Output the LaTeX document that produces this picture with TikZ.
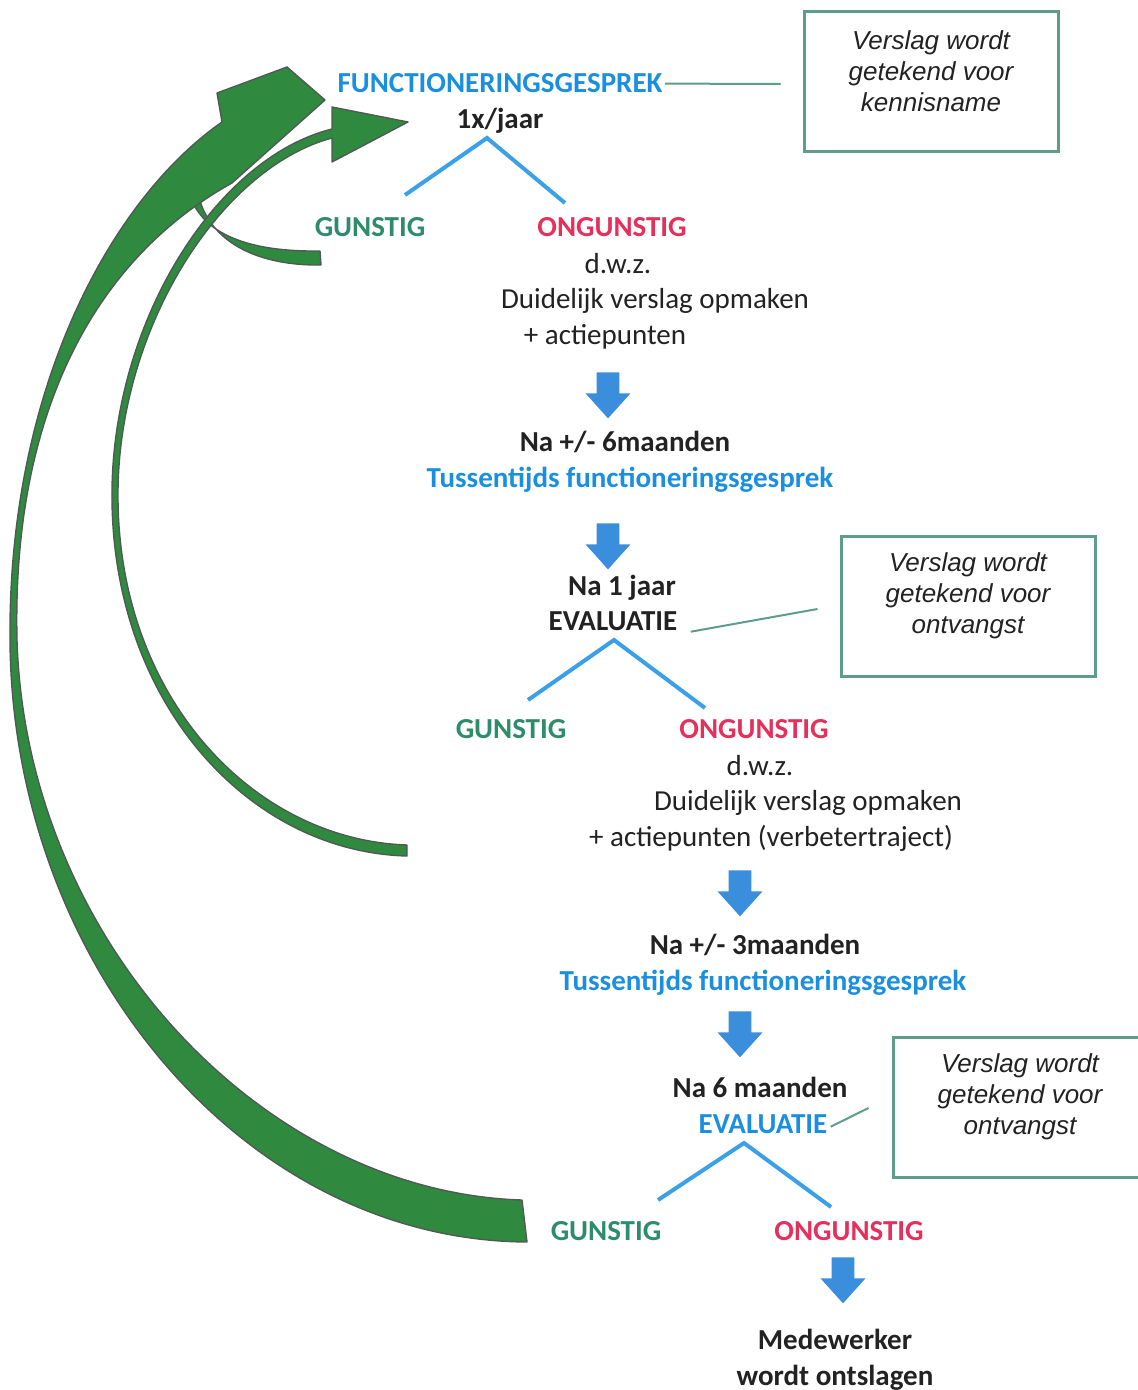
\documentclass[tikz,border=0pt]{standalone}
\usepackage{fontspec}
\setmainfont{Carlito}
\newfontfamily\notefont{Liberation Sans}
\usetikzlibrary{calc,shapes.arrows}
\definecolor{StepBlue}{HTML}{1A8FE0}
\definecolor{GoodGreen}{HTML}{2E8C6A}
\definecolor{BadRed}{HTML}{E5305B}
\definecolor{TextBlack}{HTML}{222222}
\definecolor{ForkBlue}{HTML}{3AA0E8}
\definecolor{DownBlue}{HTML}{3A8EDB}
\definecolor{NoteFrame}{HTML}{5E9C8C}
\definecolor{LoopGreen}{HTML}{2F8A3F}
\definecolor{LoopEdge}{HTML}{4F5A55}

\begin{document}
\begin{tikzpicture}[x=0.5pt,y=-0.5pt,
  plain/.style={anchor=base,inner sep=0pt,text=TextBlack,
    font=\fontsize{14.5}{18}\selectfont},
  head/.style={plain,font=\fontsize{14.5}{18}\selectfont\bfseries},
  blue/.style={head,text=StepBlue},
  good/.style={head,text=GoodGreen},
  bad/.style={head,text=BadRed},
  notebox/.style={draw=NoteFrame,line width=1.5pt,minimum width=127pt,minimum height=70pt},
  notetext/.style={align=center,inner sep=0pt,text=TextBlack,
    font=\notefont\fontsize{13}{15.5}\selectfont\itshape},
  forkline/.style={ForkBlue,line width=2pt},
  noteline/.style={NoteFrame,line width=1pt},
  blockdown/.style={single arrow,shape border rotate=270,fill=DownBlue,draw=none,
    inner sep=5.5pt,minimum width=22pt,minimum height=23pt,
    single arrow head extend=5.5pt,single arrow tip angle=84},
  loop/.style={fill=LoopGreen,draw=LoopEdge,line width=0.7pt,line join=round}]
  \clip (0,0) rectangle (1138,1390);

  % --- green return arrows ---
  \filldraw[loop] (186,170) .. controls (186,235) and (250,252) .. (320,251)
    -- (321,265) .. controls (245,266) and (194,232) .. (196,170) -- cycle;
  \filldraw[loop] (522,1200) .. controls (262,1192) and (26,940) .. (17,640)
    .. controls (12,420) and (90,262) .. (232,183)
    -- (325,100) -- (287,67) -- (217,93) -- (222,122)
    .. controls (110,200) and (8,390) .. (10,640)
    .. controls (12,960) and (240,1240) .. (527,1242) -- cycle;
  \filldraw[loop] (407,845) .. controls (255,840) and (120,700) .. (118,500)
    .. controls (116,330) and (220,168) .. (332,138)
    -- (332,162) -- (408,122) -- (332,107) -- (332,129)
    .. controls (215,158) and (110,325) .. (112,500)
    .. controls (114,705) and (250,852) .. (407,856) -- cycle;

  % --- first talk ---
  \node[blue] (func) at (500,93) {FUNCTIONERINGSGESPREK};
  \node[head] (jaar) at (500,129) {1x/jaar};
  \node[good] (gun1) at (370,237) {GUNSTIG};
  \node[bad]  (ong1) at (612,237) {ONGUNSTIG};
  \node[plain] (dwz1) at (618,274) {d.w.z.};
  \node[plain] (dui1) at (655,308) {Duidelijk verslag opmaken};
  \node[plain] (act1) at (605,344) {+ actiepunten};
  \coordinate (f1) at (487,138);
  \coordinate (f1l) at (405,195);
  \coordinate (f1r) at (565,203);
  \draw[forkline] (f1l) -- (f1) -- (f1r);
  \node[blockdown] (dn1) at (608,389) {};

  % --- interim talk and evaluation ---
  \node[head] (na6) at (625,451) {Na +/- 6maanden};
  \node[blue] (tus1) at (630,487) {Tussentijds functioneringsgesprek};
  \node[blockdown] (dn2) at (608,540) {};
  \node[head] (na1) at (622,595) {Na 1 jaar};
  \node[head] (eval1) at (613,630) {EVALUATIE};
  \node[good] (gun2) at (511,738) {GUNSTIG};
  \node[bad]  (ong2) at (754,738) {ONGUNSTIG};
  \node[plain] (dwz2) at (760,775) {d.w.z.};
  \node[plain] (dui2) at (808,810) {Duidelijk verslag opmaken};
  \node[plain] (act2) at (771,846) {+ actiepunten (verbetertraject)};
  \coordinate (f2) at (614,640);
  \coordinate (f2l) at (528,700);
  \coordinate (f2r) at (705,708);
  \draw[forkline] (f2l) -- (f2) -- (f2r);
  \node[blockdown] (dn3) at (740,887) {};

  % --- second interim talk and evaluation ---
  \node[head] (na3) at (755,954) {Na +/- 3maanden};
  \node[blue] (tus2) at (763,990) {Tussentijds functioneringsgesprek};
  \node[blockdown] (dn4) at (740,1028) {};
  \node[head] (na6m) at (760,1097) {Na 6 maanden};
  \node[blue] (eval2) at (763,1133) {EVALUATIE};
  \node[good] (gun3) at (606,1240) {GUNSTIG};
  \node[bad]  (ong3) at (849,1240) {ONGUNSTIG};
  \coordinate (f3) at (744,1143);
  \coordinate (f3l) at (658,1200);
  \coordinate (f3r) at (831,1207);
  \draw[forkline] (f3l) -- (f3) -- (f3r);
  \node[blockdown] (dn5) at (843,1274) {};
  \node[head] (med) at (835,1349) {Medewerker};
  \node[head] (ont) at (835,1385) {wordt ontslagen};

  % --- notes ---
  \node[notebox] (nb1) at (931,82) {};
  \node[notetext] (nt1) at (931,71) {Verslag wordt\\getekend voor\\kennisname};
  \node[notebox] (nb2) at (968,606) {};
  \node[notetext] (nt2) at (968,596) {Verslag wordt\\getekend voor\\ontvangst};
  \node[notebox] (nb3) at (1020,1107) {};
  \node[notetext] (nt3) at (1020,1097) {Verslag wordt\\getekend voor\\ontvangst};
  \draw[noteline] ($(func.east)+(2,0)$) -- ($(nb1.west)+(-22,2)$);
  \draw[noteline] ($(eval1.east)+(13,11)$) -- ($(nb2.west)+(-22,3)$);
  \draw[noteline] ($(eval2.east)+(3,3)$) -- ($(nb3.west)+(-23,1)$);
\end{tikzpicture}
\end{document}
